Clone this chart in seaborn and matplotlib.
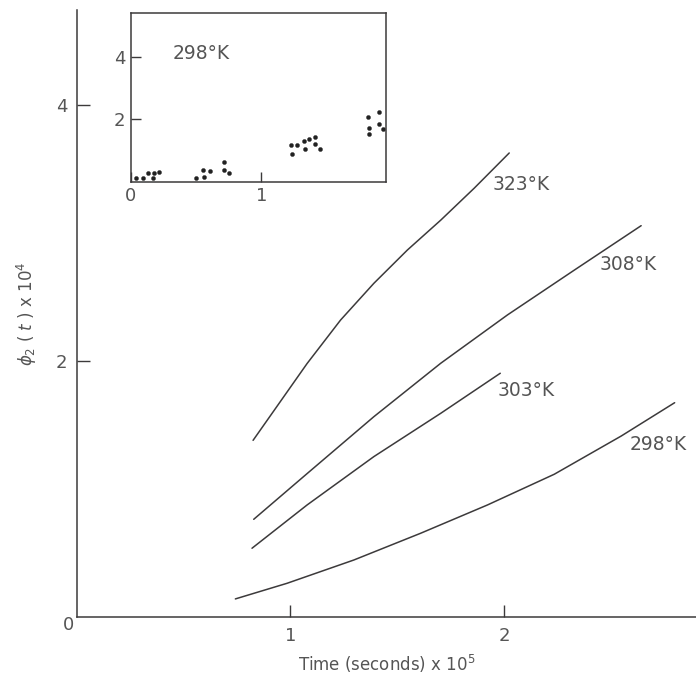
import pandas as pd
import seaborn as sns
import matplotlib.pyplot as plt

# curves (time x 1e5 s, phi2 x 1e4)
t_323 = [0.825, 0.922, 1.078, 1.235, 1.391, 1.548, 1.704, 1.861, 2.025]
p_323 = [1.38, 1.61, 1.98, 2.32, 2.607, 2.867, 3.10, 3.35, 3.625]

t_308 = [0.828, 1.078, 1.391, 1.704, 2.017, 2.33, 2.643]
p_308 = [0.763, 1.12, 1.565, 1.982, 2.36, 2.71, 3.057]

t_303 = [0.82, 1.078, 1.391, 1.704, 1.983]
p_303 = [0.537, 0.875, 1.253, 1.591, 1.904]

t_298 = [0.742, 0.984, 1.297, 1.61, 1.923, 2.236, 2.55, 2.80]
p_298 = [0.141, 0.263, 0.445, 0.654, 0.875, 1.115, 1.414, 1.674]

# inset points, 298 K
in_t = [0.043, 0.094, 0.132, 0.17, 0.176, 0.216,
        0.496, 0.56, 0.552, 0.603, 0.712, 0.712, 0.753,
        1.224, 1.232, 1.275, 1.328, 1.333, 1.366, 1.41, 1.412, 1.448,
        1.812, 1.82, 1.82, 1.896, 1.896, 1.93]
in_p = [0.14, 0.14, 0.27, 0.14, 0.30, 0.33,
        0.12, 0.17, 0.38, 0.34, 0.65, 0.37, 0.28,
        1.19, 0.89, 1.19, 1.31, 1.04, 1.37, 1.43, 1.20, 1.05,
        2.09, 1.74, 1.52, 2.24, 1.84, 1.70]

temps = ["323°K", "308°K", "303°K", "298°K"]
label_pos = [(1.947, 3.375), (2.446, 2.75), (1.972, 1.773), (2.587, 1.35)]

frames = []
for name, t, p in zip(temps, [t_323, t_308, t_303, t_298], [p_323, p_308, p_303, p_298]):
    frames.append(pd.DataFrame({"t": t, "phi": p, "T": name}))
curves = pd.concat(frames)
pts = pd.DataFrame({"t": in_t, "phi": in_p})

sns.set_style("ticks")
plt.rcParams["font.family"] = ["DejaVu Sans"]
ink = "#3c3a3b"
txt = "#555555"

fig = plt.figure(figsize=(6.96, 6.84), dpi=100)
ax = fig.add_axes([0.1106, 0.098, 0.8894, 0.887])
sns.lineplot(data=curves, x="t", y="phi", units="T", estimator=None, sort=False,
             color=ink, lw=1.1, ax=ax)
ax.set_xlim(0, 2.9)
ax.set_ylim(0, 4.74)
for s in ["top", "right"]:
    ax.spines[s].set_visible(False)
for s in ["left", "bottom"]:
    ax.spines[s].set_color(ink)
    ax.spines[s].set_linewidth(1.1)
ax.set_xticks([1, 2])
ax.set_xticklabels(["1", "2"])
ax.set_yticks([2, 4])
ax.set_yticklabels(["2", "4"])
ax.tick_params(direction="in", length=9, width=1, color=ink, labelsize=13,
               labelcolor=txt, pad=7)
ax.set_xlabel("Time (seconds) x 10$^5$", fontsize=12, color=txt, labelpad=6)
ax.set_ylabel(r"$\phi_2$ ( $t$ ) x 10$^4$", fontsize=12, color=txt, labelpad=12)
ax.text(-0.04, -0.06, "0", fontsize=13, color=txt, ha="center", va="center")

for name, (x, y) in zip(temps, label_pos):
    ax.text(x, y, name, fontsize=13.5, color=txt, ha="left", va="center")

ins = fig.add_axes([0.188, 0.734, 0.366, 0.247])
sns.scatterplot(data=pts, x="t", y="phi", color="#222222", s=9, edgecolor=None,
                ax=ins)
ins.set_xlim(0, 1.95)
ins.set_ylim(0, 5.4)
ins.set_xticks([0, 1])
ins.set_xticklabels(["0", "1"])
ins.set_yticks([2, 4])
ins.set_yticklabels(["2", "4"])
ins.set_xlabel("")
ins.set_ylabel("")
for s in ins.spines.values():
    s.set_color(ink)
    s.set_linewidth(1.1)
ins.tick_params(direction="in", length=7, width=1, color=ink, labelsize=13,
                labelcolor=txt, pad=4)
ins.text(0.32, 4.1, "298°K", fontsize=13.5, color=txt, ha="left", va="center")

fig.savefig("out.png", dpi=100, facecolor="white")
